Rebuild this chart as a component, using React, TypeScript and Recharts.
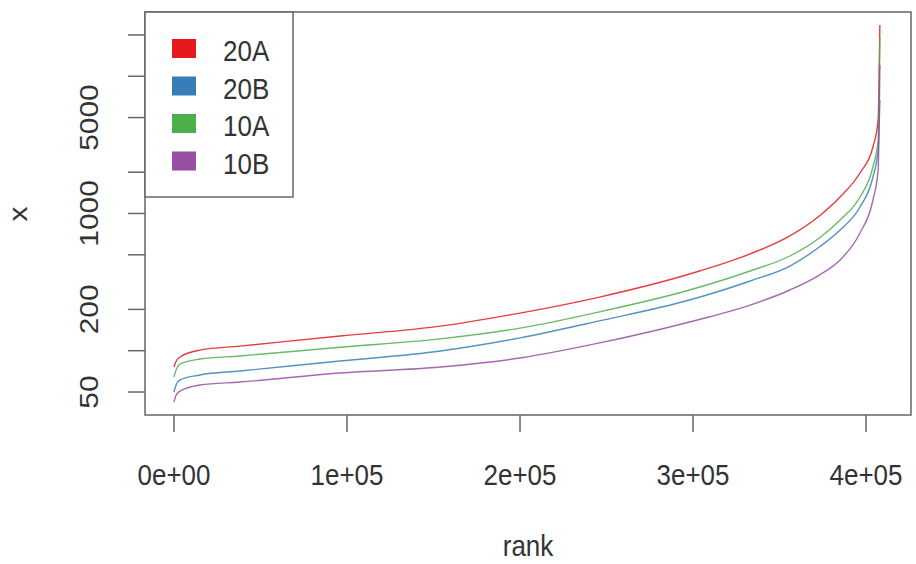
import React from 'react';
import { LineChart, Line, XAxis, YAxis, ReferenceArea } from 'recharts';

// (log y axis, rank on x)
const rank = [0, 1000, 3500, 15000, 38000, 96000, 154000, 200000, 246000, 298000, 333000, 356000, 373000, 385000, 396500, 404000, 407000, 408000];
const s20A = [76.1, 82.7, 90, 101, 108, 128, 151, 188, 246, 362, 507, 686, 959, 1319, 1973, 3052, 4800, 23650];
const s20B = [50, 55.3, 61.2, 66.5, 71.1, 84.1, 99.5, 124, 165, 234, 322, 414, 570, 758, 1115, 1845, 2900, 6720];
const s10A = [64.3, 71.1, 80, 87, 91.5, 106, 122, 146, 192, 277, 381, 490, 663, 897, 1319, 2183, 3433, 19020];
const s10B = [42.3, 46.8, 50.8, 56.2, 59.1, 68.8, 76.1, 88.5, 114, 162, 215, 277, 356, 458, 721, 1254, 2076, 12090];

const xTicks = [0, 100000, 200000, 300000, 400000];
const yTicks = [50, 100, 200, 500, 1000, 2000, 5000, 10000, 20000];
const yLabeled = [50, 200, 1000, 5000];

const series = [
  { key: 's20A', name: '20A', color: '#E41A1C' },
  { key: 's20B', name: '20B', color: '#377EB8' },
  { key: 's10A', name: '10A', color: '#4DAF4A' },
  { key: 's10B', name: '10B', color: '#984EA3' },
];

const data = rank.map((r, i) => ({ rank: r, s20A: s20A[i], s20B: s20B[i], s10A: s10A[i], s10B: s10B[i] }));

const FONT = '"Liberation Sans", Arial, Helvetica, sans-serif';
const TEXT = '#333';

const fmtX = (v: number) => (v === 0 ? '0e+00' : `${v / 100000}e+05`);

const XTick = (props: any) => {
  const { x, y, payload } = props;
  return (
    <text
      transform={`translate(${x},${y + 51}) scale(1,1.15)`}
      textAnchor="middle"
      fontSize={26}
      fontFamily={FONT}
      fill={TEXT}
    >
      {fmtX(payload.value)}
    </text>
  );
};

const YTick = (props: any) => {
  const { x, y, payload } = props;
  if (!yLabeled.includes(payload.value)) return null;
  return (
    <text
      transform={`translate(${x - 28},${y}) rotate(-90) scale(1.15,1)`}
      textAnchor="middle"
      fontSize={26}
      fontFamily={FONT}
      fill={TEXT}
    >
      {payload.value}
    </text>
  );
};

export default function App() {
  return (
    <div style={{ position: 'relative', width: 916, height: 564, background: '#fff' }}>
      <style>{'body{margin:0}'}</style>
      <LineChart width={916} height={564} data={data} margin={{ top: 12, right: 5, bottom: 0, left: 0 }}>
        <XAxis
          dataKey="rank"
          type="number"
          domain={[-16760, 426000]}
          allowDataOverflow
          ticks={xTicks}
          height={149}
          tickSize={17}
          axisLine={false}
          tickLine={{ stroke: '#666', strokeWidth: 1.5 }}
          tick={<XTick />}
        />
        <YAxis
          type="number"
          scale="log"
          domain={[34, 29400]}
          allowDataOverflow
          ticks={yTicks}
          width={145}
          tickSize={17}
          axisLine={false}
          tickLine={{ stroke: '#666', strokeWidth: 1.5 }}
          tick={<YTick />}
        />
        <ReferenceArea
          x1={-16760}
          x2={426000}
          y1={34}
          y2={29400}
          fill="none"
          stroke="#666"
          strokeWidth={1.5}
          ifOverflow="visible"
        />
        {series.map((s) => (
          <Line
            key={s.key}
            dataKey={s.key}
            name={s.name}
            type="monotone"
            stroke={s.color}
            strokeWidth={1.4}
            strokeOpacity={0.85}
            dot={false}
            isAnimationActive={false}
          />
        ))}
      </LineChart>
      <svg
        width={916}
        height={564}
        style={{ position: 'absolute', left: 0, top: 0, pointerEvents: 'none' }}
        fontFamily={FONT}
      >
        <rect x={145} y={12} width={148} height={185} fill="#fff" stroke="#666" strokeWidth={1.5} />
        {series.map((s, i) => (
          <g key={s.key}>
            <rect x={172} y={39 + i * 37.5} width={24} height={19} fill={s.color} />
            <text
              transform={`translate(223,${61 + i * 37.5}) scale(1,1.15)`}
              fontSize={26}
              fill={TEXT}
            >
              {s.name}
            </text>
          </g>
        ))}
        <text transform="translate(528,556) scale(1,1.15)" textAnchor="middle" fontSize={26} fill={TEXT}>
          rank
        </text>
        <text transform="translate(27,214) rotate(-90) scale(1.15,1)" textAnchor="middle" fontSize={26} fill={TEXT}>
          x
        </text>
      </svg>
    </div>
  );
}
